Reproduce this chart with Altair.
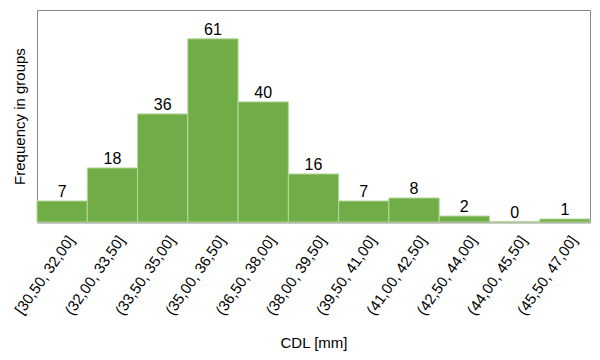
import altair as alt
import pandas as pd

categories = ["[30,50, 32,00]", "(32,00, 33,50]", "(33,50, 35,00]", "(35,00, 36,50]",
              "(36,50, 38,00]", "(38,00, 39,50]", "(39,50, 41,00]", "(41,00, 42,50]",
              "(42,50, 44,00]", "(44,00, 45,50]", "(45,50, 47,00]"]
counts = [7, 18, 36, 61, 40, 16, 7, 8, 2, 0, 1]

df = pd.DataFrame({"bin": categories, "count": counts})

FONT = "Liberation Sans"

x = alt.X("bin:N", sort=categories,
          scale=alt.Scale(paddingInner=0, paddingOuter=0),
          axis=alt.Axis(title="CDL [mm]", labelAngle=-55, labelFontSize=15,
                        labelColor="#000", labelFont=FONT, ticks=False,
                        labelPadding=15, labelOffset=9, domainColor="#999", domainWidth=2,
                        titleFont=FONT, titleFontSize=15, titleFontWeight="normal",
                        titleColor="#000", titlePadding=18))
y = alt.Y("count:Q", scale=alt.Scale(domain=[0, 70.6], nice=False, zero=True),
          axis=alt.Axis(title="Frequency  in groups", labels=False, ticks=False,
                        grid=False, domain=False, titleFont=FONT, titleFontSize=15,
                        titleFontWeight="normal", titleColor="#000", titlePadding=10))

bars = alt.Chart(df).mark_bar(color="#70AD47", stroke="#b5d89c", strokeWidth=1).encode(x=x, y=y)
labels = alt.Chart(df).mark_text(baseline="bottom", dy=-1, fontSize=16, font=FONT,
                                 color="#000").encode(x=alt.X("bin:N", sort=categories),
                                                      y=alt.Y("count:Q"),
                                                      text="count:Q")

chart = (bars + labels).properties(
    width=553, height=212,
    autosize=alt.AutoSizeParams(type="none"),
    padding={"left": 29, "top": 2, "right": 2, "bottom": 130},
).configure_view(stroke="#888", strokeWidth=1)

chart.save("out.html", embed_options={"renderer": "svg", "actions": False})
